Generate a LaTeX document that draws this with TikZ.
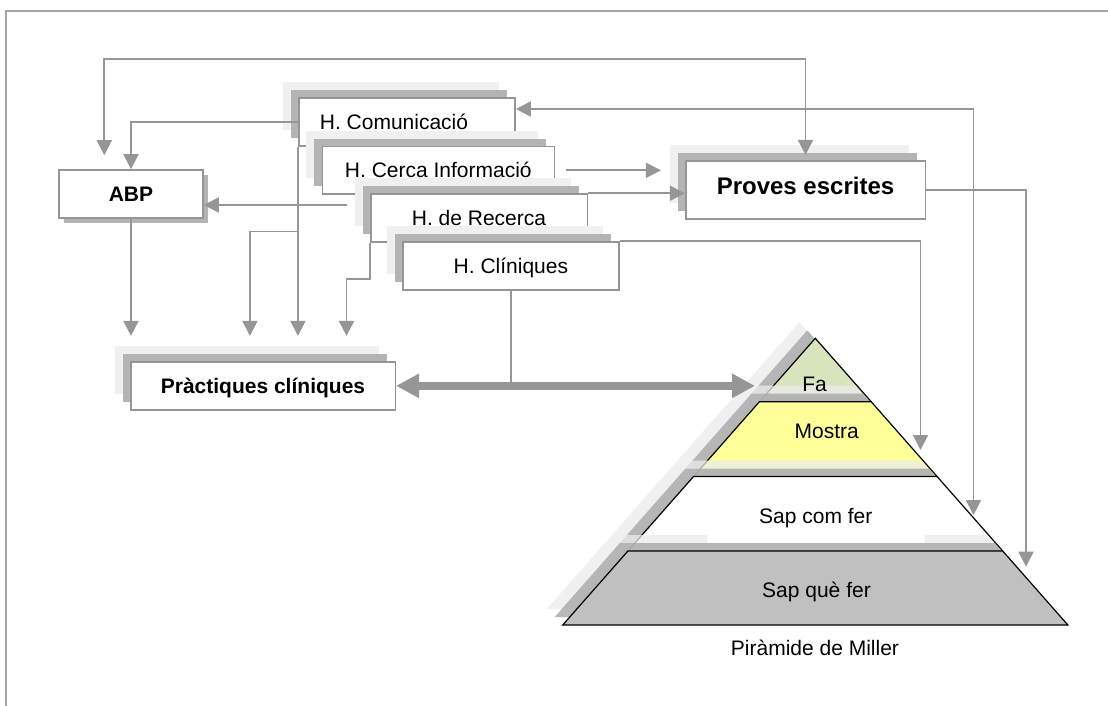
\documentclass[tikz,border=0pt]{standalone}
\usepackage{fontspec}
\setmainfont{Liberation Sans}
\usetikzlibrary{arrows.meta,shadows,calc}

\definecolor{linegray}{RGB}{150,150,150}
\definecolor{framegray}{RGB}{165,165,165}
\definecolor{shL}{RGB}{240,240,240}
\definecolor{shD}{RGB}{180,180,180}
\definecolor{pyrL}{RGB}{235,235,235}
\definecolor{pyrD}{RGB}{168,168,168}
\definecolor{faGreen}{RGB}{215,228,189}
\definecolor{mostraYellow}{RGB}{255,255,153}
\definecolor{queGray}{RGB}{192,192,192}

\begin{document}
\begin{tikzpicture}[x=1pt,y=-1pt,
  font=\fontsize{21}{25}\selectfont,
  skillbox/.style={draw=linegray, line width=1.6pt, fill=white, inner sep=0pt,
    text height=15pt, text depth=0pt,
    general shadow={shadow xshift=-16pt, shadow yshift=16pt, fill=shL},
    general shadow={shadow xshift=-8pt, shadow yshift=8pt, fill=shD}},
  abpbox/.style={draw=linegray, line width=1.6pt, fill=white, inner sep=0pt,
    text height=15pt, text depth=0pt,
    general shadow={shadow xshift=5pt, shadow yshift=-5pt, fill=shD}},
  plaintext/.style={inner sep=0pt, text height=15pt, text depth=0pt},
  pyrlayer/.style={draw=black, line width=1.2pt,
    general shadow={shadow xshift=-16pt, shadow yshift=16pt, fill=pyrL, fill opacity=0.75},
    general shadow={shadow xshift=-8pt, shadow yshift=8pt, fill=pyrD, fill opacity=0.8}},
  conn/.style={draw=linegray, line width=1.8pt},
  tipend/.style={-{Triangle[length=15pt,width=15pt]}},
  tipboth/.style={{Triangle[length=15pt,width=15pt]}-{Triangle[length=15pt,width=15pt]}},
  bigconn/.style={draw=linegray, line width=7.5pt,
    {Triangle[length=23pt,width=23pt]}-{Triangle[length=23pt,width=23pt]}}
]
\useasboundingbox (0,0) rectangle (1108,706);

% outer frame
\draw[framegray, line width=1.5pt] (6,706) -- (6,11) -- (1108,11);

% stacked skill boxes
\node[skillbox, minimum width=216.3pt, minimum height=48pt] (comm) at (406.9,122) {};
\node[plaintext] (commtxt) at (394,122) {H. Comunicació};
\node[skillbox, minimum width=232pt, minimum height=47.5pt] (cerca) at (438.3,170.3) {H. Cerca Informació};
\node[skillbox, minimum width=216.6pt, minimum height=47.7pt] (recerca) at (479,217.9) {H. de Recerca};
\node[skillbox, minimum width=216.3pt, minimum height=48pt] (clin) at (510.9,266) {H. Clíniques};

% method boxes
\node[abpbox, minimum width=144pt, minimum height=48pt] (abp) at (131,194) {\bfseries ABP};
\node[skillbox, minimum width=264.6pt, minimum height=48.3pt] (prac) at (263,385.85) {\bfseries Pràctiques clíniques};
\node[skillbox, minimum width=239.6pt, minimum height=58.3pt,
      font=\fontsize{24}{28}\selectfont\bfseries, text height=17.2pt, text depth=7pt]
      (proves) at (805.5,189.85) {Proves escrites};

% Miller's pyramid
\coordinate (apex) at (815.3,338.3);
\coordinate (L1) at (759.44,401.7);  \coordinate (R1) at (871.16,401.7);
\coordinate (L2) at (693.55,476.5);  \coordinate (R2) at (937.05,476.5);
\coordinate (L3) at (627.91,551);    \coordinate (R3) at (1002.69,551);
\coordinate (L4) at (562.72,625);    \coordinate (R4) at (1067.88,625);

\path[pyrlayer, fill=faGreen] (apex) -- (L1) -- (R1) -- cycle;
\path[pyrlayer, fill=mostraYellow] (L1) -- (L2) -- (R2) -- (R1) -- cycle;
\path[pyrlayer, fill=white] (L2) -- (L3) -- (R3) -- (R2) -- cycle;
\path[pyrlayer, fill=queGray] (L3) -- (L4) -- (R4) -- (R3) -- cycle;

\node[plaintext] (fa) at (814.5,383.7) {Fa};
\node[plaintext] (mostra) at (826.7,431) {Mostra};
\node[plaintext, fill=white, inner xsep=52.3pt, inner ysep=19.7pt] (sapcom) at (815.8,515.8) {Sap com fer};
\node[plaintext] (sapque) at (816.5,590) {Sap què fer};
\node[plaintext] (miller) at (815,648) {Piràmide de Miller};

% arrow targets on the pyramid and above the practice box
\coordinate (faIn) at (755,386);
\coordinate (mostraIn) at (920.5,450);
\coordinate (sapcomIn) at (973.5,515);
\coordinate (sapqueIn) at (1026,566.7);
\coordinate (pin) at ([yshift=25pt]prac.north);

% connectors
\draw[conn, tipboth] ([xshift=-26.7pt,yshift=14pt]abp.north) -- ++(0,-96) -| ([yshift=5pt]proves.north);
\draw[conn, tipend] (comm.west) -| (abp.north);
\coordinate (recAbp) at ([xshift=-23pt,yshift=12.9pt]recerca.west);
\draw[conn, tipend] (recAbp) -- (recAbp -| abp.east);

\draw[conn, tipend] (abp.south) -- (abp.south |- pin);
\draw[conn, tipend] (comm.south west) -- (comm.south west |- pin);
\coordinate (branch) at ([yshift=-84.7pt]comm.south west);
\coordinate (branchL) at ([xshift=-48pt]branch);
\draw[conn, tipend] (branch) -- (branchL) -- (branchL |- pin);
\coordinate (recKnee) at ([yshift=-36.6pt]recerca.south west);
\coordinate (recKneeL) at ([xshift=-23.4pt]recKnee);
\draw[conn, tipend] (recerca.south west) -- (recKnee) -- (recKneeL) -- (recKneeL |- pin);

\coordinate (cercaOut) at ([xshift=11pt]cerca.east);
\coordinate (cercaEnd) at ([xshift=-24pt]proves.west);
\draw[conn, tipend] (cercaOut) -- (cercaOut -| cercaEnd);
\draw[conn, tipend] (recerca.north east) -- (recerca.north east -| proves.west);

\draw[conn, tipend] (clin.north east) -| (mostraIn);
\coordinate (commR) at ([yshift=13pt]comm.east);
\draw[conn, tipboth] (commR) -| (sapcomIn);
\draw[conn, tipend] (proves.east) -| (sapqueIn);

\draw[conn] (clin.south) -- (clin.south |- faIn);
\draw[bigconn] (prac.east) -- (prac.east -| faIn);
\end{tikzpicture}
\end{document}
